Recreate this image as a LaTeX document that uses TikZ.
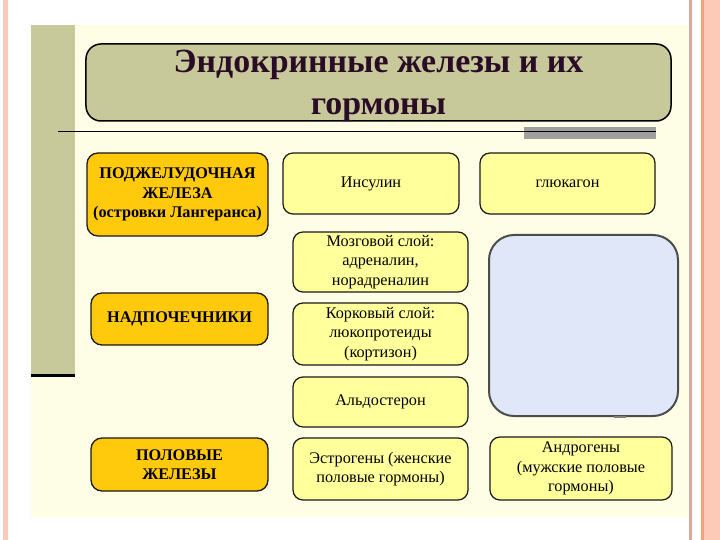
\documentclass[tikz,border=0pt]{standalone}
\usepackage{fontspec}
\setmainfont{Liberation Serif}
\definecolor{cream}{HTML}{FEFEE6}
\definecolor{olive}{HTML}{C8C99B}
\definecolor{gold}{HTML}{FFCA0C}
\definecolor{paleyellow}{HTML}{FFFF9C}
\definecolor{paleblue}{HTML}{DFE7F8}
\definecolor{pinkstripe}{HTML}{FDCAB8}
\definecolor{orangeline}{HTML}{F5A07E}
\definecolor{titleink}{HTML}{2A0C26}
\tikzset{
  glandbox/.style = {draw = black!90, line width = 1.3bp, fill = gold, rounded corners = 11bp,
    align = center, font = \fontsize{16.3}{19.5}\selectfont\bfseries, inner sep = 0pt},
  hormonebox/.style = {draw = black!90, line width = 1.2bp, fill = paleyellow, rounded corners = 10bp,
    align = center, font = \fontsize{16.3}{19.3}\selectfont, inner sep = 0pt}
}
\begin{document}
\begin{tikzpicture}[x = 1bp, y = -1bp]
			\useasboundingbox (0, 0) rectangle (720, 540);
			\fill[white] (0, 0) rectangle (720, 540);

			\coordinate (titleC) at (378.5, 82.5);
\coordinate (pancreasC) at (177.5, 194.5);
\coordinate (insulinC) at (371, 183.5);
\coordinate (glucagonC) at (567.5, 183.5);
\coordinate (medullaC) at (380.5, 262);
\coordinate (adrenalC) at (179.5, 319);
\coordinate (cortexC) at (380.5, 334);
\coordinate (aldoC) at (380.5, 402);
\coordinate (blankC) at (583.5, 325.5);
\coordinate (gonadsC) at (179.5, 464.5);
\coordinate (estrogenC) at (380.5, 469);
\coordinate (androgenC) at (581, 468.5);

			% slide frame
			\fill[pinkstripe] (3, 0) rectangle (8, 540);
\fill[cream] (31, 25) rectangle (688, 517);
\fill[olive] (31, 25) rectangle (75, 375);
\draw[black, line width = 3bp] (31, 375) -- (75, 375);
\fill[black!15!pinkstripe] (689, 0) rectangle (692, 540);
\fill[pinkstripe] (702, 0) rectangle (720, 540);
\fill[orangeline] (701, 0) rectangle (703.5, 540);

			% title
			\node[draw = black, line width = 1.5bp, fill = olive, rounded corners = 15bp,
  minimum width = 585bp, minimum height = 77bp, inner sep = 0pt] (title) at (titleC) {};
\node[align = center, text = titleink, inner sep = 0pt,
  font = \fontsize{34}{42}\selectfont\bfseries] (titletext) at ([yshift = -3bp]title.center)
  {Эндокринные железы и их\\гормоны};
\fill[black!25!gray!60] (524, 127) rectangle (656, 139);
\coordinate (ruleL) at (58, 132);
\coordinate (ruleR) at (656, 132);
\draw[black, line width = 1bp] (ruleL) -- (ruleR);

			% glands
			\node[glandbox, minimum width = 181bp, minimum height = 83bp] (pancreas) at (pancreasC)
  {ПОДЖЕЛУДОЧНАЯ\\ЖЕЛЕЗА\\(островки Лангеранса)};
\node[glandbox, minimum width = 177bp, minimum height = 52bp] (adrenal) at (adrenalC) {НАДПОЧЕЧНИКИ};
\node[glandbox, minimum width = 177bp, minimum height = 53bp] (gonads) at (gonadsC) {ПОЛОВЫЕ\\ЖЕЛЕЗЫ};

			% hormones
			\node[hormonebox, minimum width = 176bp, minimum height = 61bp] (insulin) at (insulinC) {Инсулин};
\node[hormonebox, minimum width = 175bp, minimum height = 61bp] (glucagon) at (glucagonC) {глюкагон};
\node[hormonebox, minimum width = 175bp, minimum height = 60bp] (medulla) at (medullaC)
  {Мозговой слой:\\адреналин,\\норадреналин};
\node[hormonebox, minimum width = 175bp, minimum height = 62bp] (cortex) at (cortexC)
  {Корковый слой:\\люкопротеиды\\(кортизон)};
\node[hormonebox, minimum width = 175bp, minimum height = 50bp] (aldo) at (aldoC) {Альдостерон};
\node[hormonebox, minimum width = 175bp, minimum height = 62bp] (estrogen) at (estrogenC)
  {Эстрогены (женские\\половые гормоны)};
\node[hormonebox, minimum width = 182bp, minimum height = 63bp] (androgen) at (androgenC)
  {Андрогены\\(мужские половые\\гормоны)};
\node[draw = black!70, line width = 2bp, fill = paleblue, rounded corners = 25bp,
  minimum width = 189bp, minimum height = 181bp, inner sep = 0pt] (blank) at (blankC) {};
\draw[gray, line width = 1.5bp] ([xshift = 30bp]blank.south) -- ([xshift = 42bp]blank.south);

		\end{tikzpicture}
\end{document}
